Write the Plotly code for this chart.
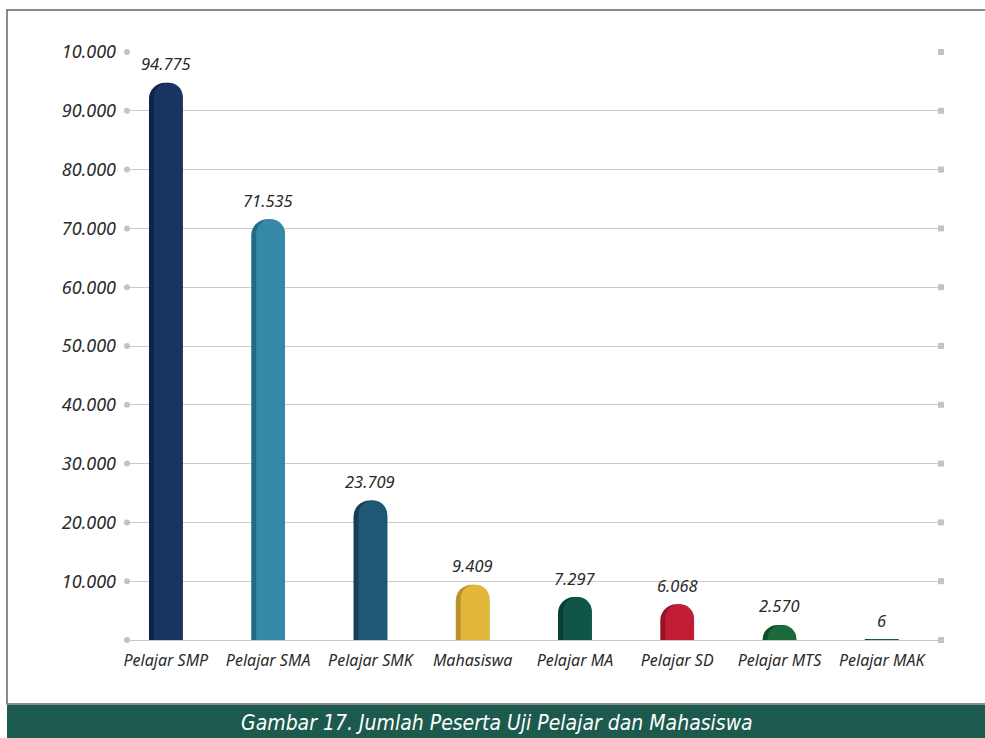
import plotly.graph_objects as go

categories = ["Pelajar SMP", "Pelajar SMA", "Pelajar SMK", "Mahasiswa",
              "Pelajar MA", "Pelajar SD", "Pelajar MTS", "Pelajar MAK"]
values = [94775, 71535, 23709, 9409, 7297, 6068, 2570, 6]
value_labels = ["94.775", "71.535", "23.709", "9.409", "7.297", "6.068", "2.570", "6"]
front_colors = ["#1a3461", "#3389a7", "#1f5874", "#e2b83a", "#115548", "#c21d36", "#1a6b3b", "#1b5c4d"]
side_colors = ["#0f2248", "#236a85", "#143f55", "#b8922a", "#0a3d33", "#941428", "#0f4d29", "#12443a"]
tick_vals = [0, 10000, 20000, 30000, 40000, 50000, 60000, 70000, 80000, 90000, 100000]
tick_text = ["", "10.000", "20.000", "30.000", "40.000", "50.000", "60.000",
             "70.000", "80.000", "90.000", "10.000"]
caption = "Gambar 17. Jumlah Peserta Uji Pelajar dan Mahasiswa"

W, H = 985, 738
x_idx = list(range(len(categories)))
x_range = [-0.38, 7.58]
FONT = "'Noto Sans', 'Open Sans', sans-serif"

fig = go.Figure()

# gridline end markers
fig.add_trace(go.Scatter(x=[x_range[0]] * len(tick_vals), y=tick_vals, mode="markers",
                         marker=dict(symbol="circle", size=6, color="#c3c3c3"),
                         cliponaxis=False, hoverinfo="skip", showlegend=False))
fig.add_trace(go.Scatter(x=[x_range[1]] * len(tick_vals), y=tick_vals, mode="markers",
                         marker=dict(symbol="square", size=6, color="#c3c3c3"),
                         cliponaxis=False, hoverinfo="skip", showlegend=False))

# bar side (darker) and front faces
fig.add_trace(go.Bar(x=x_idx, y=values, width=0.33, offset=-0.165,
                     marker=dict(color=side_colors, cornerradius="50%", line=dict(width=0)),
                     showlegend=False, hoverinfo="skip"))
fig.add_trace(go.Bar(x=x_idx, y=values, width=0.282, offset=-0.117,
                     marker=dict(color=front_colors, cornerradius="50%", line=dict(width=0)),
                     showlegend=False))

# value labels
annotations = [
    dict(x=xi, y=v, xref="x", yref="y", text=lab, showarrow=False,
         xanchor="center", yanchor="middle", yshift=19,
         font=dict(family=FONT, size=16.5, color="#2a2a2a", style="italic"))
    for xi, v, lab in zip(x_idx, values, value_labels)
]
annotations.append(
    dict(text=caption, xref="paper", yref="paper", x=497 / W, y=(H - 723) / H,
         showarrow=False, xanchor="center", yanchor="middle",
         font=dict(family="'Liberation Sans Narrow', 'DejaVu Sans Condensed', sans-serif",
                   size=21, color="white", style="italic"))
)

fig.update_layout(
    width=W, height=H, barmode="overlay",
    margin=dict(l=0, r=0, t=0, b=0, autoexpand=False),
    paper_bgcolor="white", plot_bgcolor="white",
    font=dict(family=FONT, color="#2a2a2a", style="italic"),
    xaxis=dict(domain=[127 / W, 941 / W], range=x_range, tickvals=x_idx, ticktext=categories,
               showgrid=False, zeroline=False, showline=True, linecolor="#c8c8c8", linewidth=1,
               ticks="", ticklabelstandoff=6,
               tickfont=dict(family=FONT, size=16, color="#2a2a2a", style="italic")),
    yaxis=dict(domain=[98 / H, 686 / H], range=[0, 100000], tickvals=tick_vals, ticktext=tick_text,
               showgrid=True, gridcolor="#cbcbcb", gridwidth=1, zeroline=False, ticks="",
               ticklabelstandoff=10,
               tickfont=dict(family=FONT, size=18, color="#2a2a2a", style="italic")),
    shapes=[
        dict(type="rect", xref="paper", yref="paper", x0=7 / W, x1=1.02,
             y0=(H - 704) / H, y1=(H - 10) / H, line=dict(color="#666666", width=1.5),
             fillcolor="rgba(0,0,0,0)", layer="below"),
        dict(type="rect", xref="paper", yref="paper", x0=7 / W, x1=1.0,
             y0=0, y1=(H - 705) / H, line=dict(width=0), fillcolor="#1b5a4d", layer="above"),
    ],
    annotations=annotations,
)

fig.write_html("out.html", config={"displayModeBar": False},
               post_script="document.body.style.margin='0';document.body.style.overflow='hidden';")
